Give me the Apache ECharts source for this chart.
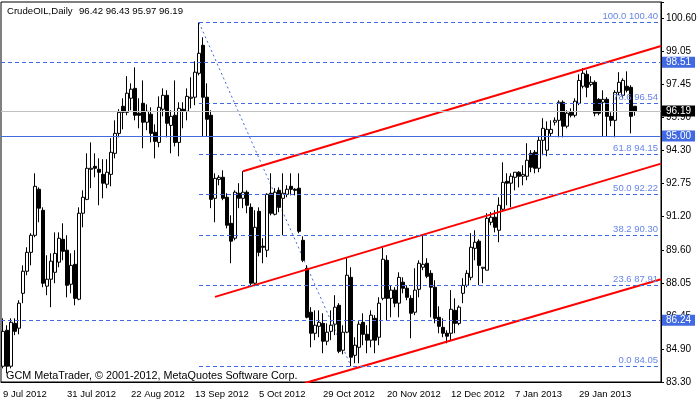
<!DOCTYPE html>
<html><head><meta charset="utf-8">
<script src="https://cdn.jsdelivr.net/npm/echarts@6/dist/echarts.min.js"></script>
<style>html,body{margin:0;padding:0;background:#fff}#c{width:700px;height:402px}</style>
</head><body><div id="c"></div>
<script>
// ---- data ----
const open=[84.05,85.76,84.05,86.09,85.86,87.52,88.57,89.47,90.28,92.47,
91.47,87.86,88.19,88.52,89.00,90.09,89.57,87.95,88.90,87.24,
91.33,91.99,93.42,93.56,93.42,93.18,92.71,93.18,94.18,95.13,
96.42,96.13,96.80,97.27,96.09,96.56,95.66,96.04,95.18,94.70,
96.28,96.94,95.51,95.99,94.70,96.28,96.18,96.80,96.85,97.99,
99.32,96.85,95.99,92.04,92.94,93.04,92.09,90.85,90.14,92.28,
92.04,92.33,91.61,88.00,91.42,89.76,89.57,92.28,91.28,92.42,
92.04,92.23,92.61,92.47,92.52,90.04,88.71,86.62,85.62,85.95,
86.09,85.24,85.71,86.05,86.95,84.81,85.67,88.28,84.57,84.95,
86.14,85.57,85.29,86.33,85.43,87.28,89.09,87.28,87.67,87.05,
88.05,87.76,87.28,86.62,87.71,88.76,88.95,88.47,87.81,86.38,
85.90,85.62,85.62,86.71,86.09,87.52,87.90,88.28,89.66,90.00,
88.71,88.62,90.90,91.14,90.52,91.52,92.85,92.76,93.04,93.28,
93.09,93.09,94.18,94.23,93.47,94.80,94.33,95.13,95.66,95.75,
96.61,95.47,96.13,95.99,96.56,97.37,97.94,97.46,97.56,96.75,
96.61,96.75,95.94,95.75,97.08,96.94,97.37,97.32,96.42];
const close=[85.71,84.05,86.14,85.71,87.05,88.57,89.47,90.28,92.61,91.57,
88.00,88.19,89.05,89.42,90.14,89.52,87.90,88.85,87.28,91.33,
92.09,93.47,93.47,93.47,93.28,92.76,93.28,94.23,95.13,96.13,
96.13,97.04,97.23,95.99,95.99,95.66,96.18,95.13,94.75,96.37,
96.94,95.61,95.94,94.70,96.32,96.18,96.89,96.85,98.04,98.94,
96.85,95.80,91.99,92.99,93.04,92.04,90.76,90.00,92.33,92.04,
92.33,91.71,88.00,90.66,89.47,89.71,92.23,91.33,92.33,91.61,
92.28,92.47,92.47,92.42,90.47,89.09,86.38,85.62,86.00,86.14,
85.24,85.67,86.00,86.86,84.76,85.67,88.38,84.48,85.05,86.05,
85.57,85.29,86.48,85.29,87.05,89.14,87.28,87.67,87.05,88.28,
87.76,87.33,86.57,87.67,88.95,88.90,88.33,87.81,86.33,85.95,
85.62,85.48,86.76,86.09,86.86,87.90,88.47,89.71,89.95,88.85,
88.76,91.09,91.14,90.66,91.71,92.80,92.76,93.09,93.28,93.09,
93.18,93.85,93.52,93.47,94.80,95.37,95.32,95.32,95.75,96.61,
95.47,96.09,95.99,96.66,97.65,97.99,97.32,97.56,96.09,96.09,
96.75,95.94,95.75,97.08,97.56,97.65,97.18,95.94,96.19];
const low=[83.95,83.72,83.95,85.53,85.57,87.05,88.38,88.85,90.19,90.90,
87.81,87.43,86.86,88.00,88.76,89.09,87.33,87.52,86.95,87.19,
90.66,91.95,92.52,93.04,91.71,92.04,92.52,92.61,93.94,94.94,
95.32,95.99,96.23,95.75,95.37,94.42,95.28,94.70,93.94,94.47,
95.94,94.94,94.18,94.51,94.04,95.37,95.75,96.32,96.47,97.89,
94.99,94.99,91.57,90.90,92.66,91.95,90.61,88.95,90.04,91.57,
91.57,91.33,87.90,87.86,89.28,88.95,89.24,91.23,91.23,91.38,
90.28,92.09,92.18,92.18,90.38,89.00,86.33,84.95,85.29,85.43,
84.67,85.05,85.29,85.53,84.67,84.62,85.62,84.05,84.19,84.19,
85.05,84.67,84.95,84.67,85.05,87.19,86.24,86.38,86.86,86.38,
87.52,87.19,85.38,86.48,87.33,88.62,88.24,86.38,86.09,85.62,
85.43,85.14,85.29,85.62,86.00,87.05,87.81,88.14,89.09,87.90,
88.00,88.62,90.76,90.42,89.95,91.47,91.71,91.61,92.42,92.56,
92.66,92.90,93.28,93.23,93.28,94.09,94.04,94.99,95.51,94.94,
94.94,95.37,95.89,95.89,96.47,97.27,96.85,97.37,95.94,95.99,
94.99,94.99,95.47,94.94,96.94,96.80,97.08,95.13,95.97];
const high=[86.33,86.00,86.33,86.33,87.19,88.85,89.71,90.38,93.23,92.56,
91.61,89.33,89.42,90.42,90.42,90.85,90.28,89.42,89.57,91.61,
92.42,94.18,94.70,94.18,93.94,93.90,93.90,94.90,95.75,96.28,
96.80,97.85,97.51,98.27,96.80,97.65,96.51,96.37,95.56,96.89,
97.27,97.18,96.23,97.65,96.61,96.61,97.27,97.80,98.56,100.40,
99.70,97.51,96.23,93.23,93.14,93.37,92.28,91.23,92.42,92.76,
93.33,92.42,91.80,91.47,91.61,90.14,92.28,93.23,92.52,92.56,
93.23,92.66,93.23,92.52,93.23,90.23,88.85,86.86,86.71,86.71,
86.57,86.09,86.71,87.43,87.05,86.00,89.19,88.76,85.43,86.19,
86.57,86.00,86.71,86.48,87.33,89.71,89.33,87.90,87.81,88.52,
88.28,87.90,87.43,88.71,89.09,90.33,89.19,88.62,88.14,86.90,
86.33,85.76,87.67,87.28,86.95,88.24,88.62,90.38,90.52,90.09,
88.76,91.33,91.38,91.47,92.09,93.75,93.23,93.23,93.28,93.33,
93.61,94.66,94.33,94.33,94.99,95.85,95.70,95.75,95.89,96.70,
96.70,96.23,96.32,96.80,97.94,98.23,98.13,97.85,97.65,96.80,
97.18,96.85,96.13,97.18,98.04,97.75,98.08,97.42,96.43];

const xTickLabels=['9 Jul 2012','31 Jul 2012','22 Aug 2012','13 Sep 2012','5 Oct 2012','29 Oct 2012','20 Nov 2012','12 Dec 2012','7 Jan 2013','29 Jan 2013'];
const yTickLabels=['83.30','84.90','86.45','88.05','89.60','91.20','92.75','94.30','95.90','97.45','99.05','100.60'];
const fibPct=['100.0','78.6','61.8','50.0','38.2','23.6','0.0'];
const fibVal=[100.40,96.54,94.15,92.22,90.30,87.91,84.05];
const fibStartBar=49;
const fibDiagonal=[[49,100.40],[87,84.05]];
const dashedLevels=[98.51,86.24];
const supportLevel=95.00;
const bidLevel=96.19;
const upperChannel=[[60,93.33],[164.5,99.29]];
const middleChannel=[[53,87.35],[164.5,93.69]];
const lowerChannel=[[75.5,83.25],[164.5,88.19]];
const slotCount=165;
const yTickStep=1.5727;
const yMin=83.30, yMax=101.38;
const titleName='CrudeOIL,Daily';
const titleQuote='96.42 96.43 95.97 96.19';
const copyright='GCM MetaTrader, \u00a9 2001-2012, MetaQuotes Software Corp.';

// ---- chart ----
const FONT='"Liberation Sans", Arial, sans-serif';
const ROYAL='#4169e1';
const cats=[];for(let i=0;i<slotCount;i++)cats.push(String(i));
const ohlc=open.map((o,i)=>[o,close[i],low[i],high[i]]);
const chart=echarts.init(document.getElementById('c'),null,{renderer:'canvas'});

const fibLines=fibVal.map((v,k)=>[
  {coord:[fibStartBar,v],label:{formatter:fibPct[k]+' '+v.toFixed(2)}},
  {coord:[slotCount-0.5,v]}
]);
const boxLabel=(bg)=>({show:true,position:'end',distance:1,
  formatter:p=>Number(p.value).toFixed(2),
  backgroundColor:bg,color:'#fff',padding:[1,4,1,4],lineHeight:9,fontSize:10,fontFamily:FONT});

chart.setOption({
  animation:false,
  backgroundColor:'#fff',
  grid:{left:1,right:39,top:2,bottom:20,show:true,borderColor:'#000',borderWidth:1,backgroundColor:'#fff'},
  xAxis:[
    {type:'category',data:cats,boundaryGap:true,position:'bottom',
     axisLine:{lineStyle:{color:'#000'}},
     axisTick:{alignWithLabel:true,interval:15,length:4,lineStyle:{color:'#000'}},
     axisLabel:{interval:15,align:'left',margin:7,color:'#000',fontSize:9.5,fontFamily:FONT,
       formatter:(v,i)=>xTickLabels[i/16]||''},
     splitLine:{show:false}},
    {type:'value',min:-0.5,max:slotCount-0.5,position:'top',show:false}
  ],
  yAxis:[
    {type:'value',min:yMin,max:yMax,position:'left',show:false,splitLine:{show:false}},
    {type:'value',min:0,max:(yMax-yMin)/yTickStep,interval:1,position:'right',
     axisLine:{show:true,lineStyle:{color:'#000'}},
     axisTick:{show:true,length:3,lineStyle:{color:'#000'}},
     axisLabel:{margin:5,color:'#000',fontSize:10,fontFamily:FONT,
       formatter:v=>{const r=Math.round(v);return Math.abs(v-r)<1e-6?(yTickLabels[r]||''):'';}},
     splitLine:{show:false}}
  ],
  graphic:[
    {type:'text',left:7,top:6,z:100,style:{text:titleName,font:'9.6px '+FONT,fill:'#000'}},
    {type:'text',left:79,top:6,z:100,style:{text:titleQuote,font:'9.6px '+FONT,fill:'#000'}},
    {type:'text',left:6,top:371,z:100,style:{text:copyright,font:'10.8px '+FONT,fill:'#000'}}
  ],
  series:[
    {type:'line',xAxisIndex:1,yAxisIndex:0,data:[],silent:true,z:1,
     markLine:{silent:true,symbol:['none','none'],animation:false,
       lineStyle:{color:ROYAL,type:[4,3],width:1},
       label:{show:true,position:'insideEndTop',distance:[3,1],color:'#6585e6',fontSize:9.5,fontFamily:FONT},
       data:fibLines}},
    {type:'line',xAxisIndex:1,yAxisIndex:0,data:[],silent:true,z:1,
     markLine:{silent:true,symbol:['none','none'],animation:false,precision:2,
       data:[
         {yAxis:dashedLevels[0],lineStyle:{color:ROYAL,type:[4,3],width:1},label:boxLabel(ROYAL)},
         {yAxis:dashedLevels[1],lineStyle:{color:ROYAL,type:[4,3],width:1},label:boxLabel(ROYAL)},
         {yAxis:supportLevel,lineStyle:{color:ROYAL,type:'solid',width:1},label:boxLabel(ROYAL)},
         {yAxis:bidLevel,lineStyle:{color:'#c0c0c0',type:'solid',width:1},label:boxLabel('#000')}
       ]}},
    {type:'line',xAxisIndex:1,yAxisIndex:0,data:fibDiagonal,symbol:'none',silent:true,z:2,
     lineStyle:{color:ROYAL,type:[2,3],width:1}},
    {type:'candlestick',xAxisIndex:0,yAxisIndex:0,data:ohlc,barWidth:3,z:3,
     itemStyle:{color:'#fff',color0:'#000',borderColor:'#000',borderColor0:'#000',borderColorDoji:'#000',borderWidth:1}},
    {type:'line',xAxisIndex:1,yAxisIndex:0,data:upperChannel,symbol:'none',silent:true,z:4,clip:true,
     lineStyle:{color:'#ff0000',width:2}},
    {type:'line',xAxisIndex:1,yAxisIndex:0,data:middleChannel,symbol:'none',silent:true,z:4,clip:true,
     lineStyle:{color:'#ff0000',width:2}},
    {type:'line',xAxisIndex:1,yAxisIndex:0,data:lowerChannel,symbol:'none',silent:true,z:4,clip:true,
     lineStyle:{color:'#ff0000',width:2}}
  ]
});
</script></body></html>
